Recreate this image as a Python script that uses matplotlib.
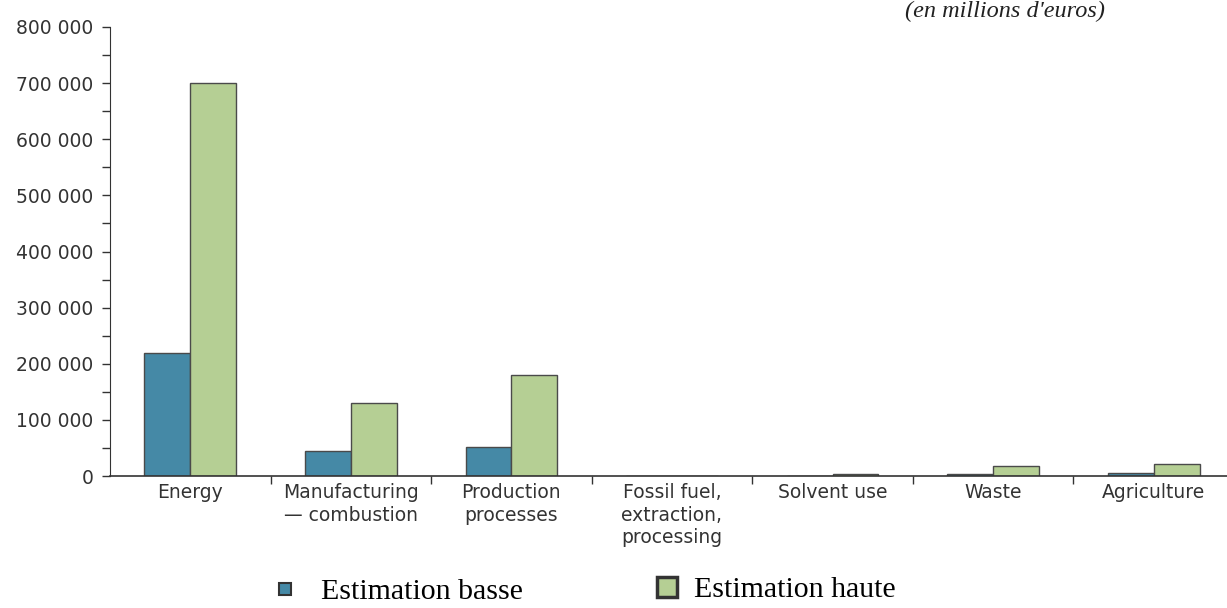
import matplotlib.pyplot as plt
import numpy as np
from matplotlib.ticker import MultipleLocator, FuncFormatter
from matplotlib.lines import Line2D

categories = ["Energy", "Manufacturing\n\u2014 combustion", "Production\nprocesses",
              "Fossil fuel,\nextraction,\nprocessing", "Solvent use", "Waste", "Agriculture"]
estimation_basse = [219000, 45000, 52000, 0, 500, 3000, 6000]
estimation_haute = [700000, 130000, 180000, 0, 3000, 17000, 21000]

blue = '#4589a6'
green = '#b5cf94'
edge = '#4a4a4a'

fig = plt.figure(figsize=(12.27, 6.08), dpi=100)
ax = fig.add_axes([110 / 1227, 1 - 476 / 608, 1124 / 1227, 449 / 608])

x = np.arange(len(categories))
w = 0.286
ax.bar(x - w / 2, estimation_basse, w, color=blue, edgecolor=edge, linewidth=1)
ax.bar(x + w / 2, estimation_haute, w, color=green, edgecolor=edge, linewidth=1)

ax.set_xlim(-0.5, len(categories) - 0.5)
ax.set_ylim(0, 800000)

ax.yaxis.set_major_locator(MultipleLocator(100000))
ax.yaxis.set_minor_locator(MultipleLocator(50000))
ax.yaxis.set_major_formatter(FuncFormatter(lambda v, p: f"{int(v):,}".replace(",", " ")))
ax.tick_params(axis='y', which='both', length=6, width=1, color='#333333',
               labelsize=13.5, labelcolor='#333333', pad=6)

ax.set_xticks(x)
ax.set_xticklabels(categories, fontsize=13.5, color='#333333', linespacing=1.25)
ax.set_xticks(x[:-1] + 0.5, minor=True)
ax.tick_params(axis='x', which='major', length=0, pad=5)
ax.tick_params(axis='x', which='minor', length=6, width=1, color='#333333')

for s in ['top', 'right']:
    ax.spines[s].set_visible(False)
ax.spines['left'].set_color('#333333')
ax.spines['bottom'].set_color('#333333')
ax.spines['bottom'].set_linewidth(1.2)

# unit note (cut off at the top in the original; kept fully visible here)
fig.text(1005 / 1227, 1 - 1 / 608, "(en millions d'euros)", ha='center', va='top',
         fontsize=17.5, style='italic', family='Liberation Serif', color='#222222')

# legend, one entry per box so each handle sits like in the original
h_basse = Line2D([], [], marker='s', linestyle='none', markersize=9, markerfacecolor=blue,
                 markeredgecolor='#333333', markeredgewidth=1.5)
h_haute = Line2D([], [], marker='s', linestyle='none', markersize=15, markerfacecolor=green,
                 markeredgecolor='#333333', markeredgewidth=2.5)
leg_kw = dict(loc='center left', frameon=False, borderpad=0, borderaxespad=0,
              handlelength=1.2, prop={'family': 'Liberation Serif', 'size': 21.5})
leg1 = fig.legend([h_basse], ["Estimation basse"], bbox_to_anchor=(267 / 1227, 1 - 592 / 608),
                  handletextpad=0.6, **leg_kw)
leg2 = fig.legend([h_haute], ["Estimation haute"], bbox_to_anchor=(649 / 1227, 1 - 590 / 608),
                  handletextpad=0.3, **leg_kw)

plt.savefig("out.png", dpi=100)
